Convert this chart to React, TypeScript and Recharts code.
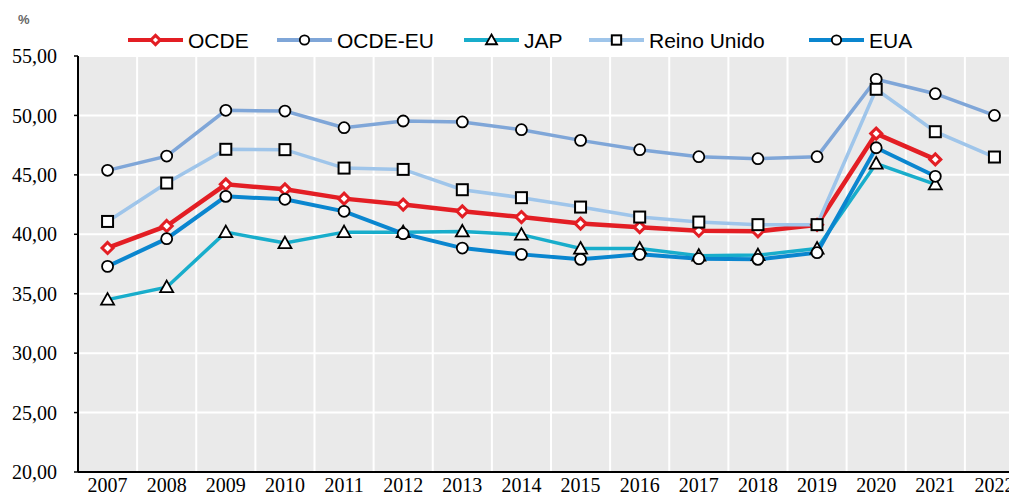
import React from 'react';
import { LineChart, Line, XAxis, YAxis, CartesianGrid } from 'recharts';

const years = ['2007', '2008', '2009', '2010', '2011', '2012', '2013', '2014', '2015', '2016', '2017', '2018', '2019', '2020', '2021', '2022'];

const ocde = [38.85, 40.7, 44.2, 43.78, 43.0, 42.5, 41.93, 41.45, 40.9, 40.6, 40.3, 40.25, 40.8, 48.47, 46.3, null];
const ocdeEu = [45.38, 46.58, 50.43, 50.37, 48.97, 49.53, 49.45, 48.8, 47.9, 47.12, 46.53, 46.36, 46.53, 53.04, 51.83, 50.0];
const jap = [34.5, 35.55, 40.18, 39.26, 40.18, 40.18, 40.24, 39.97, 38.8, 38.8, 38.2, 38.25, 38.8, 45.95, 44.2, null];
const reinoUnido = [41.08, 44.31, 47.15, 47.12, 45.57, 45.46, 43.75, 43.08, 42.29, 41.45, 41.03, 40.81, 40.81, 52.2, 48.63, 46.5];
const eua = [37.3, 39.63, 43.19, 42.94, 41.93, 40.05, 38.84, 38.31, 37.89, 38.31, 37.95, 37.89, 38.45, 47.28, 44.88, null];

const yTicks = [20, 25, 30, 35, 40, 45, 50, 55];

const data = years.map((year, i) => ({
  year,
  ocde: ocde[i],
  ocdeEu: ocdeEu[i],
  jap: jap[i],
  reinoUnido: reinoUnido[i],
  eua: eua[i],
}));

const RED = '#E31E24';

const marker = (type: string, cx: number, cy: number, key?: string, small = false) => {
  const s = small ? 0.85 : 1;
  if (type === 'diamond') {
    const d = 5.5 * s;
    return (
      <path key={key} d={`M${cx},${cy - d} L${cx + d},${cy} L${cx},${cy + d} L${cx - d},${cy} Z`}
        fill="#fff" stroke={RED} strokeWidth={3} />
    );
  }
  if (type === 'square') {
    const h = 5.5 * s;
    return <rect key={key} x={cx - h} y={cy - h} width={h * 2} height={h * 2} fill="#fff" stroke="#000" strokeWidth={2} />;
  }
  if (type === 'triangle') {
    const w = 6.5 * s;
    return (
      <path key={key} d={`M${cx},${cy - 6.5 * s} L${cx + w},${cy + 5 * s} L${cx - w},${cy + 5 * s} Z`}
        fill="#fff" stroke="#000" strokeWidth={1.8} />
    );
  }
  return <circle key={key} cx={cx} cy={cy} r={5.5 * s} fill="#fff" stroke="#000" strokeWidth={1.8} />;
};

const series = [
  { key: 'ocde', name: 'OCDE', color: RED, width: 4.5, shape: 'diamond' },
  { key: 'ocdeEu', name: 'OCDE-EU', color: '#7FA6D8', width: 3.5, shape: 'circle' },
  { key: 'jap', name: 'JAP', color: '#18ADCB', width: 3.5, shape: 'triangle' },
  { key: 'reinoUnido', name: 'Reino Unido', color: '#9FC5EA', width: 3.5, shape: 'square' },
  { key: 'eua', name: 'EUA', color: '#0A86CF', width: 4, shape: 'circle' },
];

const legendX = [128, 277, 464, 589, 809];

const LegendRow = () => (
  <svg width={1009} height={60} style={{ position: 'absolute', left: 0, top: 0 }}>
    <text x={18} y={24} fontFamily="Liberation Sans" fontWeight="bold" fontSize={13} fill="#666">%</text>
    {series.map((s, i) => {
      const x = legendX[i];
      return (
        <g key={s.key}>
          <line x1={x} y1={40} x2={x + 55} y2={40} stroke={s.color} strokeWidth={4} />
          {marker(s.shape, x + 27.5, 40, undefined, true)}
          <text x={x + 60} y={40} dy="0.36em" fontFamily="Liberation Sans" fontSize={21} fill="#000">{s.name}</text>
        </g>
      );
    })}
  </svg>
);

const fmt = (v: number) => v.toFixed(2).replace('.', ',');

const App = () => {
  return (
    <div style={{ position: 'fixed', left: 0, top: 0, width: 1009, height: 497, overflow: 'hidden', background: '#fff' }}>
      <LineChart width={1032} height={497} data={data} margin={{ top: 56, right: 8, left: 0, bottom: 0 }}>
        <CartesianGrid
          fill="#EAEAEA"
          fillOpacity={1}
          stroke="#fff"
          strokeWidth={2}
          verticalCoordinatesGenerator={({ offset }: any) =>
            Array.from({ length: years.length + 1 }, (_, i) => offset.left + (i * offset.width) / years.length)
          }
        />
        <XAxis
          dataKey="year"
          scale="band"
          interval={0}
          height={25}
          axisLine={{ stroke: '#000', strokeWidth: 2 }}
          tickLine={false}
          tickSize={0}
          tickMargin={6}
          tick={{ fontFamily: 'Liberation Serif', fontSize: 20, fill: '#000' }}
        />
        <YAxis
          width={78}
          domain={[20, 55]}
          ticks={yTicks}
          allowDataOverflow
          tickFormatter={fmt}
          axisLine={{ stroke: '#000', strokeWidth: 2 }}
          tickLine={{ stroke: '#000', strokeWidth: 1.5 }}
          tickSize={4}
          tickMargin={17}
          tick={{ fontFamily: 'Liberation Serif', fontSize: 20, fill: '#000' }}
        />
        {series.map((s) => (
          <Line
            key={s.key}
            dataKey={s.key}
            name={s.name}
            stroke={s.color}
            strokeWidth={s.width}
            isAnimationActive={false}
            activeDot={false}
            dot={(p: any) =>
              p.cx == null || p.cy == null || p.value == null ? <g key={p.key} /> : marker(s.shape, p.cx, p.cy, p.key)
            }
          />
        ))}
      </LineChart>
      <LegendRow />
    </div>
  );
};

export default App;
